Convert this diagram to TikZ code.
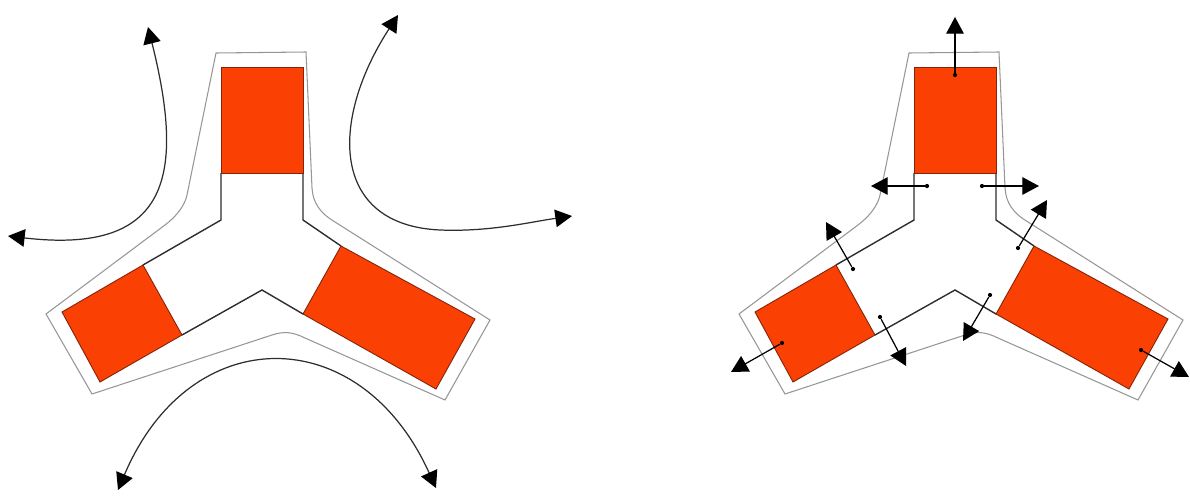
\documentclass[tikz,border=0pt]{standalone}
\usepackage{tikz}
\usetikzlibrary{arrows.meta}
\definecolor{SkRed}{RGB}{251,64,3}
\definecolor{SkRedEdge}{RGB}{130,35,10}
\definecolor{SkWall}{RGB}{45,45,45}
\definecolor{SkShell}{RGB}{150,150,150}
\tikzset{
  sk/magnet/.style={
    fill=SkRed,
    draw=SkRedEdge,
    line width=0.5pt
  },
  sk/wall/.style={draw=SkWall, line width=0.8pt},
  sk/shell/.style={draw=SkShell, line width=0.6pt},
  sk/flow/.style={{Triangle[length=9.5pt,width=10pt,color=black]}-{Triangle[length=9.5pt,width=10pt,color=black]}, line width=0.7pt, draw=SkWall},
  sk/force/.style={-{Triangle[length=9.5pt,width=10pt]}, line width=0.7pt, draw=black},
  sk/dot/.style={circle, fill=black, inner sep=0pt, minimum size=2.4pt}
}

\begin{document}
\begin{tikzpicture}[x=0.02cm,y=-0.02cm]
  \useasboundingbox (0,0) rectangle (1190,497);
  % same casing twice: flow on the left, forces on the right
  \foreach \dx in {0,693}{
    \begin{scope}[shift={(\dx,0)}]
      \draw[sk/shell] (216,53) -- (306,52) -- (312,188)
        .. controls (313,203) and (320,213) .. (335,222) -- (490,320) -- (445,400)
        -- (305,338) .. controls (293,332) and (284,331) .. (272,335) -- (92,394)
        -- (46,314) -- (165,225) .. controls (177,216) and (185,205) .. (187,195) -- cycle;
      \draw[sk/wall] (221,173) -- (221,220) -- (143,265);
      \draw[sk/wall] (182,335) -- (262,290) -- (303,314);
      \draw[sk/wall] (341,246) -- (303,220) -- (303,173);
      \filldraw[sk/magnet] (221,67) rectangle (303,173);
      \filldraw[sk/magnet] (62,312) -- (143,265) -- (182,335) -- (100,382) -- cycle;
      \filldraw[sk/magnet] (303,314) -- (341,246) -- (475,319) -- (436,389) -- cycle;
    \end{scope}
  }

  % flow round the casing
  \coordinate (fl1) at (8,236);
  \coordinate (fl2) at (148,27);
  \coordinate (fr1) at (398,15);
  \coordinate (fr2) at (572,216);
  \coordinate (fb1) at (118,490);
  \coordinate (fb2) at (436,488);
  \draw[sk/flow] (fl1) .. controls (170,255) and (185,175) .. (fl2);
  \draw[sk/flow] (fr1) .. controls (330,120) and (330,225) .. (440,230)
    .. controls (490,232) and (530,222) .. (fr2);
  \draw[sk/flow] (fb1) .. controls (190,320) and (360,320) .. (fb2);

  % forces on the walls
  \node[sk/dot] (p1) at (955,75) {};
  \node[sk/dot] (p2) at (927,186) {};
  \node[sk/dot] (p3) at (982,186) {};
  \node[sk/dot] (p4) at (1018,248) {};
  \node[sk/dot] (p5) at (990,295) {};
  \node[sk/dot] (p6) at (1141,350) {};
  \node[sk/dot] (p7) at (853,269) {};
  \node[sk/dot] (p8) at (880,317) {};
  \node[sk/dot] (p9) at (782,343) {};
  \coordinate (q1) at (955,17);
  \coordinate (q2) at (871,186);
  \coordinate (q3) at (1039,186);
  \coordinate (q4) at (1047,200);
  \coordinate (q5) at (963,341);
  \coordinate (q6) at (1189,377);
  \coordinate (q7) at (826,222);
  \coordinate (q8) at (906,366);
  \coordinate (q9) at (731,372);
  \draw[sk/force] (p1) -- (q1);
  \draw[sk/force] (p2) -- (q2);
  \draw[sk/force] (p3) -- (q3);
  \draw[sk/force] (p4) -- (q4);
  \draw[sk/force] (p5) -- (q5);
  \draw[sk/force] (p6) -- (q6);
  \draw[sk/force] (p7) -- (q7);
  \draw[sk/force] (p8) -- (q8);
  \draw[sk/force] (p9) -- (q9);
\end{tikzpicture}
\end{document}
